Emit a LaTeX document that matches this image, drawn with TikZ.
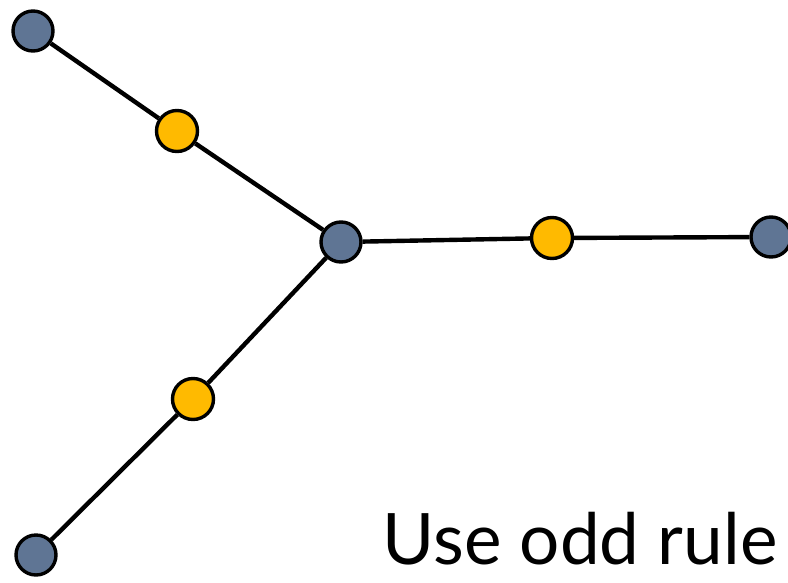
\documentclass[tikz,border=0pt]{standalone}
\usepackage{fontspec}
\setmainfont{Lato}
\usetikzlibrary{arrows.meta}
\definecolor{slate}{HTML}{5F7594}
\definecolor{amber}{HTML}{FFBA00}
\tikzset{vert/.style={circle,draw=black,line width=3.4pt,fill=slate,minimum size=40pt,inner sep=0pt},
mid/.style={circle,draw=black,line width=3.4pt,fill=amber,minimum size=41pt,inner sep=0pt},
edge/.style={line width=4.4pt}}

\begin{document}
\begin{tikzpicture}[x=1pt,y=-1pt]
\useasboundingbox (0,0) rectangle (788,582);
\node[vert] (tl) at (33,31) {};
\node[vert] (c) at (341,242) {};
\node[vert] (r) at (771,237) {};
\node[vert] (bl) at (36,555) {};
\node[mid] (m1) at (177,131) {};
\node[mid] (m2) at (552,238) {};
\node[mid] (m3) at (193,399) {};
\draw[edge] (tl)--(m1) (m1)--(c) (c)--(m2) (m2)--(r);
\draw[edge] (c)--(m3) (m3)--(bl);
\node[anchor=base east,font=\fontsize{71}{76}\selectfont] (rule) at (781,564) {Use odd rule};
\end{tikzpicture}
\end{document}
